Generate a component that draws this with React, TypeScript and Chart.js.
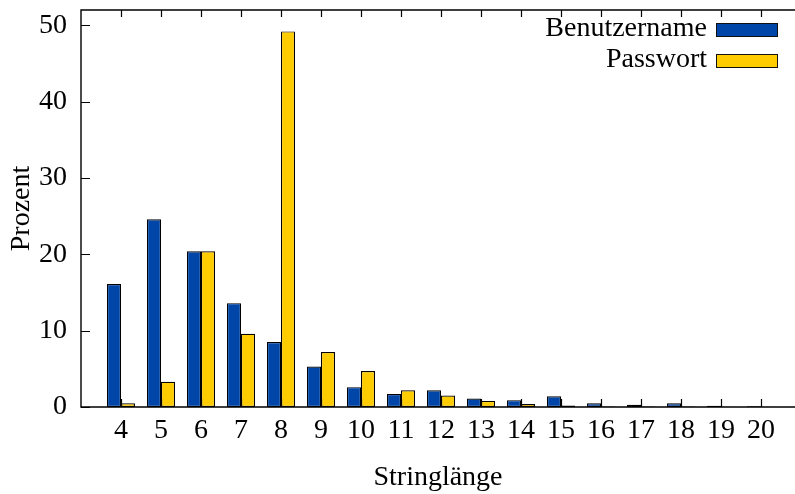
import { useEffect, useRef } from 'react';
import { Chart, registerables } from 'chart.js';

Chart.register(...registerables);

const lengths = [4, 5, 6, 7, 8, 9, 10, 11, 12, 13, 14, 15, 16, 17, 18, 19, 20];
const benutzername = [16.1, 24.6, 20.4, 13.6, 8.5, 5.3, 2.6, 1.7, 2.2, 1.1, 0.9, 1.4, 0.5, 0.3, 0.5, 0.15, 0.1];
const passwort = [0.5, 3.3, 20.4, 9.6, 49.2, 7.2, 4.7, 2.2, 1.5, 0.8, 0.4, 0.2, 0.08, 0.05, 0.05, 0.03, 0.03];
const yTicks = [0, 10, 20, 30, 40, 50];
const seriesNames = ['Benutzername', 'Passwort'];
const xTitle = 'Stringlänge';
const yTitle = 'Prozent';

const FONT_FAMILY = '"Liberation Serif", serif';
const FONT = { family: FONT_FAMILY, size: 28 };
const BLUE = '#0046a8';
const YELLOW = '#ffcc00';

const framePlugin = {
  id: 'frame',
  afterDraw(chart: any) {
    const { ctx, chartArea, scales } = chart;
    const { left, right, top, bottom } = chartArea;
    const x = scales.x;
    const y = scales.y;
    ctx.save();
    ctx.strokeStyle = '#000';
    ctx.lineWidth = 1.4;
    ctx.beginPath();
    ctx.moveTo(right, top);
    ctx.lineTo(left, top);
    ctx.lineTo(left, bottom);
    ctx.lineTo(right, bottom);
    ctx.stroke();
    ctx.lineWidth = 1.2;
    ctx.beginPath();
    x.ticks.forEach((t: any) => {
      const px = Math.round(x.getPixelForValue(t.value)) + 0.5;
      ctx.moveTo(px, bottom);
      ctx.lineTo(px, bottom - 8);
      ctx.moveTo(px, top);
      ctx.lineTo(px, top + 7);
    });
    y.ticks.forEach((t: any) => {
      const py = Math.round(y.getPixelForValue(t.value)) + 0.5;
      ctx.moveTo(left, py);
      ctx.lineTo(left + 9, py);
    });
    ctx.stroke();

    // legend (gnuplot style: text then box)
    ctx.font = `${FONT.size}px ${FONT_FAMILY}`;
    ctx.textAlign = 'right';
    ctx.textBaseline = 'middle';
    chart.data.datasets.forEach((ds: any, i: number) => {
      const cy = 30 + i * 31;
      ctx.fillStyle = '#000';
      ctx.fillText(ds.label, 707, cy - 1);
      ctx.fillStyle = ds.backgroundColor;
      ctx.fillRect(716.5, cy - 6.5, 61, 13);
      ctx.lineWidth = 1;
      ctx.strokeStyle = '#111';
      ctx.strokeRect(716.5, cy - 6.5, 61, 13);
    });
    ctx.restore();
  },
};

const noPad = (s: any) => {
  s.paddingTop = 0;
  s.paddingBottom = 0;
  s.paddingLeft = 0;
  s.paddingRight = 0;
};

export default function App() {
  const ref = useRef<HTMLCanvasElement>(null);
  useEffect(() => {
    document.body.style.margin = '0';
    const canvas = ref.current!;
    const chart = new Chart(canvas, {
      type: 'bar',
      data: {
        datasets: [
          {
            label: seriesNames[0],
            data: lengths.map((l, i) => ({ x: l, y: benutzername[i] })),
            backgroundColor: BLUE,
            borderColor: '#000',
            borderWidth: 1.2,
            borderSkipped: false,
          },
          {
            label: seriesNames[1],
            data: lengths.map((l, i) => ({ x: l, y: passwort[i] })),
            backgroundColor: YELLOW,
            borderColor: '#000',
            borderWidth: 1.2,
            borderSkipped: false,
          },
        ],
      },
      options: {
        animation: false,
        responsive: false,
        maintainAspectRatio: false,
        layout: { padding: { left: 0, right: 0, top: 10, bottom: 0 } },
        datasets: { bar: { categoryPercentage: 0.7, barPercentage: 1 } },
        plugins: { legend: { display: false }, tooltip: { enabled: false } },
        scales: {
          x: {
            type: 'linear',
            min: 3,
            max: 20.85,
            offset: false,
            grid: { display: false, drawTicks: false, offset: false },
            border: { display: false },
            afterBuildTicks: (s: any) => {
              s.ticks = lengths.map((v) => ({ value: v }));
            },
            ticks: {
              padding: 7,
              font: FONT,
              color: '#000',
              autoSkip: false,
              maxRotation: 0,
              callback: (v: any) => String(v),
            },
            title: {
              display: true,
              text: xTitle,
              font: FONT,
              color: '#000',
              padding: { top: 0, bottom: 0 },
            },
            afterFit: (s: any) => {
              s.height = 87;
              noPad(s);
            },
          },
          y: {
            min: 0,
            max: 52,
            grid: { display: false, drawTicks: false },
            border: { display: false },
            afterBuildTicks: (s: any) => {
              s.ticks = yTicks.map((v) => ({ value: v }));
            },
            ticks: { padding: 14, font: FONT, color: '#000', callback: (v: any) => String(v) },
            title: {
              display: true,
              text: yTitle,
              font: FONT,
              color: '#000',
              padding: { top: 5, bottom: 0 },
            },
            afterFit: (s: any) => {
              s.width = 81;
              noPad(s);
            },
          },
        },
      },
      plugins: [framePlugin],
    } as any);
    return () => chart.destroy();
  }, []);
  return (
    <div style={{ width: 795, height: 494 }}>
      <canvas ref={ref} width={795} height={494} style={{ display: 'block' }} />
    </div>
  );
}
